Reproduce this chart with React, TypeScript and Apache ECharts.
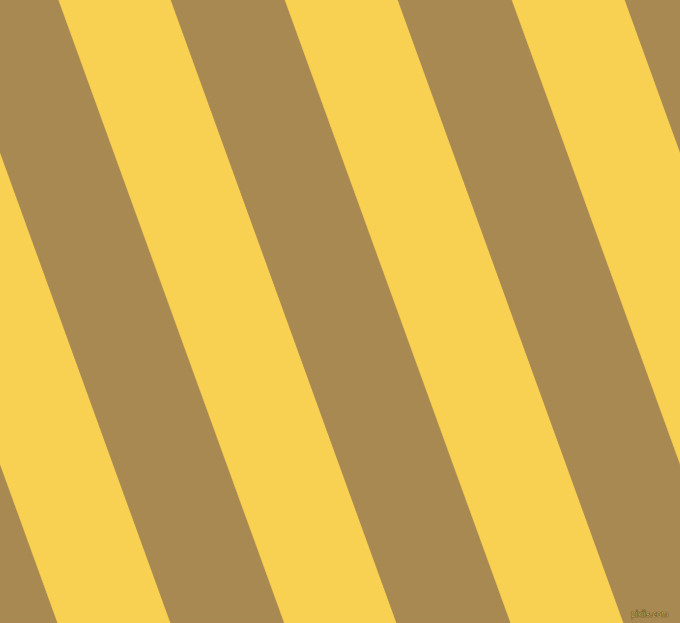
import React, { useEffect, useRef } from "react";
import * as echarts from "echarts";

// Stripe boundaries measured along the top edge (x in px at y = 0)
const stripeBoundsTop = [-281.6, -168, -55, 58.7, 171, 285, 398, 512, 625, 738.6];
// Colour of each stripe between consecutive boundaries
const stripeColors = ["#A98952", "#F9D152", "#A98952", "#F9D152", "#A98952", "#F9D152", "#A98952", "#F9D152", "#A98952"];
// Horizontal shift of every boundary from top edge to bottom edge
const slantShift = 225.7;
const canvasW = 680;
const canvasH = 623;
const watermark = "pixiis.com";

export default function App() {
  const ref = useRef<HTMLDivElement>(null);
  useEffect(() => {
    if (!ref.current) return;
    const chart = echarts.init(ref.current, undefined, { renderer: "svg" });
    const data = stripeColors.map((c, i) => [stripeBoundsTop[i], stripeBoundsTop[i + 1], i]);
    chart.setOption({
      animation: false,
      backgroundColor: "#A98952",
      grid: { left: 0, right: 0, top: 0, bottom: 0 },
      xAxis: { type: "value", min: 0, max: canvasW, show: false },
      yAxis: { type: "value", min: 0, max: canvasH, inverse: true, show: false },
      series: [
        {
          type: "custom",
          clip: true,
          data,
          renderItem: (params: any, api: any) => {
            const x0 = api.value(0);
            const x1 = api.value(1);
            const idx = api.value(2);
            const pts = [
              api.coord([x0, 0]),
              api.coord([x1, 0]),
              api.coord([x1 + slantShift, canvasH]),
              api.coord([x0 + slantShift, canvasH]),
            ];
            return {
              type: "polygon",
              shape: { points: pts },
              style: { fill: stripeColors[idx], stroke: stripeColors[idx], lineWidth: 0.5 },
            };
          },
        },
      ],
      graphic: [
        {
          type: "text",
          z: 100,
          x: 631,
          y: 614,
          style: {
            text: watermark,
            fontFamily: "Liberation Sans",
            fontSize: 8.5,
            fill: "#d2b25a",
            stroke: "#4d3c16",
            lineWidth: 0.7,
            verticalAlign: "middle",
            align: "left",
          },
        },
      ],
    });
    return () => chart.dispose();
  }, []);
  return (
    <div
      ref={ref}
      style={{ position: "fixed", left: 0, top: 0, width: canvasW, height: canvasH }}
    />
  );
}
